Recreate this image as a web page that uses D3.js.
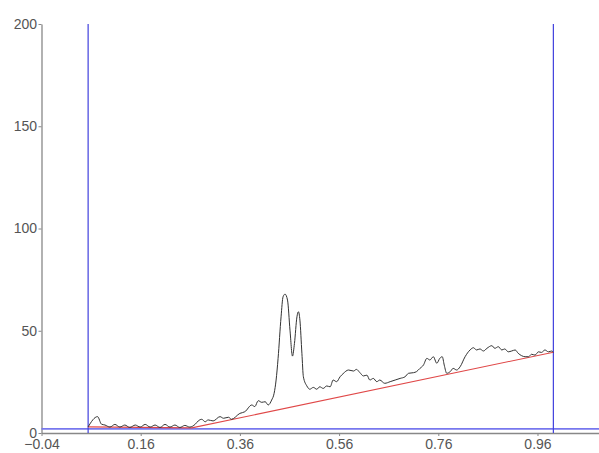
<!DOCTYPE html>
<html>
<head>
<meta charset="utf-8">
<script src="https://cdn.jsdelivr.net/npm/d3@7/dist/d3.min.js"></script>
<style>
  html, body { margin: 0; padding: 0; background: #fff; }
  svg { display: block; }
  .tick text { font-family: "Liberation Sans", Arial, sans-serif; font-size: 14px; fill: #555; }
</style>
</head>
<body>
<svg id="chart" width="599" height="453"></svg>
<script>
// Signal trace: position along the run and intensity
const signalX = [0.054, 0.073, 0.081, 0.088, 0.098, 0.108, 0.118, 0.128, 0.138, 0.149,
  0.159, 0.169, 0.179, 0.189, 0.199, 0.209, 0.219, 0.229, 0.239, 0.249,
  0.259, 0.270, 0.276, 0.283, 0.290, 0.296, 0.306, 0.320, 0.327, 0.337,
  0.343, 0.360, 0.370, 0.384, 0.390, 0.397, 0.404, 0.411, 0.417, 0.424,
  0.429, 0.433, 0.437, 0.443, 0.447, 0.451, 0.456, 0.461, 0.466, 0.470,
  0.475, 0.478, 0.481, 0.485, 0.488, 0.495, 0.501, 0.508, 0.515, 0.521,
  0.528, 0.535, 0.542, 0.548, 0.555, 0.562, 0.568, 0.579, 0.589, 0.595,
  0.602, 0.609, 0.616, 0.622, 0.629, 0.636, 0.642, 0.652, 0.663, 0.673,
  0.683, 0.693, 0.700, 0.710, 0.716, 0.723, 0.730, 0.737, 0.743, 0.750,
  0.757, 0.763, 0.768, 0.772, 0.777, 0.784, 0.790, 0.797, 0.804, 0.814,
  0.824, 0.831, 0.837, 0.844, 0.851, 0.858, 0.868, 0.874, 0.881, 0.888,
  0.894, 0.901, 0.908, 0.915, 0.921, 0.928, 0.935, 0.942, 0.948, 0.955,
  0.962, 0.968, 0.975, 0.982, 0.989, 0.992];
const signalY = [3.0, 8.0, 4.3, 3.9, 2.9, 4.2, 2.9, 3.9, 2.7, 3.9,
  2.9, 4.2, 2.9, 3.9, 2.7, 4.2, 2.9, 3.9, 2.7, 3.7,
  2.9, 4.3, 5.9, 6.7, 5.5, 6.4, 5.9, 8.0, 7.2, 7.7,
  6.7, 9.6, 10.4, 13.7, 12.9, 15.8, 15.0, 15.3, 13.7, 16.1,
  19.4, 25.9, 36.5, 56.8, 66.6, 67.9, 65.0, 50.3, 37.6, 43.8,
  56.8, 59.3, 55.2, 39.0, 27.5, 23.0, 21.4, 22.3, 21.4, 22.6,
  21.8, 23.0, 22.6, 25.9, 25.1, 27.5, 29.0, 30.8, 30.3, 31.1,
  29.5, 27.9, 28.3, 25.9, 26.7, 25.1, 25.9, 24.3, 25.1, 25.9,
  26.7, 27.5, 29.2, 29.5, 30.0, 31.6, 33.2, 36.5, 35.7, 37.3,
  34.1, 36.5, 37.3, 33.2, 29.2, 30.0, 31.6, 30.8, 32.4, 37.3,
  40.6, 41.7, 40.6, 41.1, 40.1, 41.4, 42.7, 41.4, 42.2, 40.6,
  41.1, 39.7, 40.1, 40.6, 39.0, 37.8, 37.3, 37.3, 38.5, 38.1,
  39.7, 39.4, 40.6, 39.7, 40.1, 39.4];

// Baseline drawn under the signal
const baselineX = [0.054, 0.263, 0.992];
const baselineY = [3.0, 2.5, 39.5];

// Integration limits and threshold level
const limitX = [0.054, 0.992];
const thresholdY = 2;

// Axis ticks
const xTicks = [-0.04, 0.16, 0.36, 0.56, 0.76, 0.96];
const yTicks = [0, 50, 100, 150, 200];

const svg = d3.select("#chart");
const plotLeft = 41.5, plotRight = 599, plotTop = 24, plotBottom = 433;

const x = d3.scaleLinear().domain([-0.04, 1.084]).range([plotLeft, plotRight]);
const y = d3.scaleLinear().domain([0, 200]).range([plotBottom, plotTop]);

// Axes
const xAxis = d3.axisBottom(x).tickValues(xTicks).tickFormat(d3.format(".2f")).tickSize(3).tickSizeOuter(0);
const yAxis = d3.axisLeft(y).tickValues(yTicks).tickFormat(d3.format("d")).tickSize(3).tickSizeOuter(0);

const gx = svg.append("g").attr("transform", `translate(0,${plotBottom})`).call(xAxis);
gx.selectAll(".tick text").attr("dy", "0.95em").attr("y", 3);
const gy = svg.append("g").attr("transform", `translate(${plotLeft},0)`).call(yAxis);
gy.selectAll(".tick text").attr("x", -4.5);
svg.selectAll(".domain").attr("stroke", "#888").attr("stroke-width", 1.3);
svg.selectAll(".tick line").attr("stroke", "#888");

// Threshold line
svg.append("line")
  .attr("x1", plotLeft).attr("x2", plotRight)
  .attr("y1", y(thresholdY)).attr("y2", y(thresholdY))
  .attr("stroke", "#7777ee").attr("stroke-width", 1.6);

// Limit lines
svg.selectAll("line.limit").data(limitX).enter().append("line")
  .attr("class", "limit")
  .attr("x1", d => x(d)).attr("x2", d => x(d))
  .attr("y1", y(200)).attr("y2", y(0))
  .attr("stroke", "#4040dd").attr("stroke-width", 1.2);

// Baseline
const baseData = baselineX.map((v, i) => [v, baselineY[i]]);
svg.append("path")
  .datum(baseData)
  .attr("fill", "none")
  .attr("stroke", "#e04848")
  .attr("stroke-width", 1.1)
  .attr("d", d3.line().x(d => x(d[0])).y(d => y(d[1])));

// Signal trace
const sigData = signalX.map((v, i) => [v, signalY[i]]);
svg.append("path")
  .datum(sigData)
  .attr("fill", "none")
  .attr("stroke", "#333")
  .attr("stroke-width", 1)
  .attr("d", d3.line().curve(d3.curveMonotoneX).x(d => x(d[0])).y(d => y(d[1])));
</script>
</body>
</html>
